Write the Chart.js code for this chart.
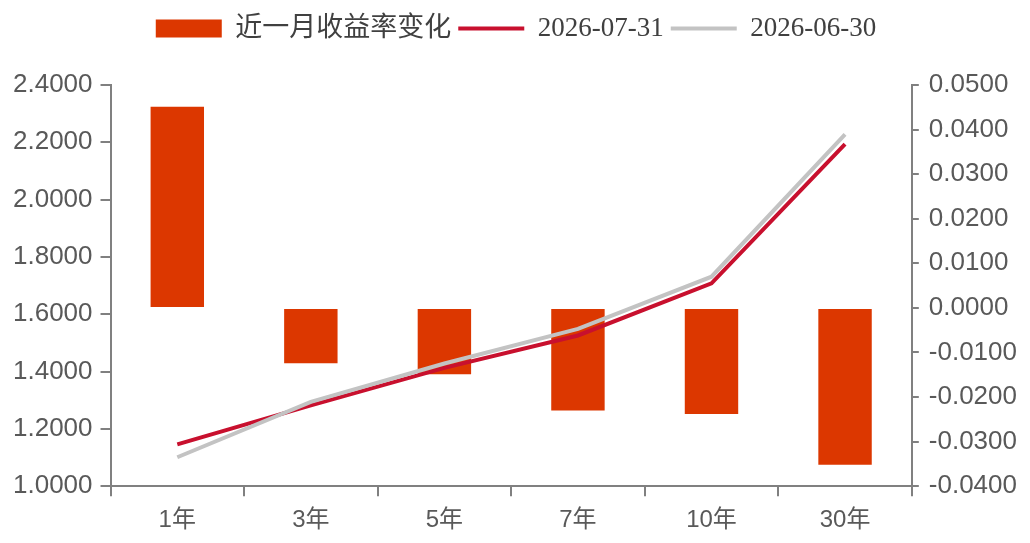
<!DOCTYPE html>
<html>
<head>
<meta charset="utf-8">
<script src="https://cdn.jsdelivr.net/npm/chart.js@4.4.1/dist/chart.umd.min.js"></script>
<style>
  html, body { margin: 0; padding: 0; background: #fff; }
  #wrap { width: 1030px; height: 543px; }
</style>
</head>
<body>
<div id="wrap"><canvas id="chart"></canvas></div>
<script>
var categories = ["1年", "3年", "5年", "7年", "10年", "30年"];
var monthChange = [0.0451, -0.0124, -0.0149, -0.0230, -0.0238, -0.0352];
var yieldJul = [1.146, 1.282, 1.413, 1.526, 1.708, 2.194];
var yieldJun = [1.101, 1.294, 1.428, 1.549, 1.731, 2.228];
var seriesNames = ["近一月收益率变化", "2026-07-31", "2026-06-30"];

var axisColor = "#808080";
var textColor = "#595959";
var sans = "'Liberation Sans', Arial, 'Noto Sans CJK SC', sans-serif";

// extra room under the legend
var legendGap = {
  id: "legendGap",
  beforeInit: function (chart) {
    var fit = chart.legend.fit;
    chart.legend.fit = function () {
      fit.bind(chart.legend)();
      this.height += 33;
    };
  }
};

var ctx = document.getElementById("chart");

new Chart(ctx, {
  type: "bar",
  data: {
    labels: categories,
    datasets: [
      {
        label: seriesNames[0],
        data: monthChange,
        backgroundColor: "#DC3700",
        borderWidth: 0,
        yAxisID: "yRight",
        barPercentage: 0.4,
        categoryPercentage: 1,
        pointStyle: "rect",
        order: 3
      },
      {
        type: "line",
        label: seriesNames[1],
        data: yieldJul,
        borderColor: "#C8102E",
        backgroundColor: "#C8102E",
        borderWidth: 4,
        pointRadius: 0,
        tension: 0,
        yAxisID: "yLeft",
        pointStyle: "line",
        order: 2
      },
      {
        type: "line",
        label: seriesNames[2],
        data: yieldJun,
        borderColor: "#C3C3C3",
        backgroundColor: "#C3C3C3",
        borderWidth: 4,
        pointRadius: 0,
        tension: 0,
        yAxisID: "yLeft",
        pointStyle: "line",
        order: 1
      }
    ]
  },
  plugins: [legendGap],
  options: {
    responsive: true,
    maintainAspectRatio: false,
    animation: false,
    layout: { padding: { left: 5, right: 3, top: 8, bottom: -2 } },
    plugins: {
      tooltip: { enabled: false },
      legend: {
        position: "top",
        labels: {
          usePointStyle: true,
          pointStyleWidth: 66,
          boxHeight: 18,
          padding: 7,
          color: "#404040",
          font: { family: "'Liberation Serif', 'Times New Roman', 'Noto Sans CJK SC', serif", size: 27 },
          sort: function (a, b) { return a.datasetIndex - b.datasetIndex; }
        }
      }
    },
    scales: {
      x: {
        grid: {
          offset: true,
          drawOnChartArea: false,
          drawTicks: true,
          tickLength: 10,
          color: axisColor,
          lineWidth: 2
        },
        border: { color: axisColor, width: 2 },
        ticks: { color: textColor, font: { family: sans, size: 24 }, padding: 10 }
      },
      yLeft: {
        position: "left",
        min: 1.0,
        max: 2.4,
        grid: { drawOnChartArea: false, tickLength: 10, color: axisColor, lineWidth: 2 },
        border: { color: axisColor, width: 2 },
        ticks: {
          stepSize: 0.2,
          color: textColor,
          padding: 8,
          font: { family: sans, size: 26 },
          callback: function (v) { return v.toFixed(4); }
        }
      },
      yRight: {
        position: "right",
        min: -0.04,
        max: 0.05,
        grid: { drawOnChartArea: false, tickLength: 7, color: axisColor, lineWidth: 2 },
        border: { color: axisColor, width: 2 },
        ticks: {
          stepSize: 0.01,
          color: textColor,
          padding: 10,
          font: { family: sans, size: 26 },
          callback: function (v) { return v.toFixed(4); }
        }
      }
    }
  }
});
</script>
</body>
</html>
